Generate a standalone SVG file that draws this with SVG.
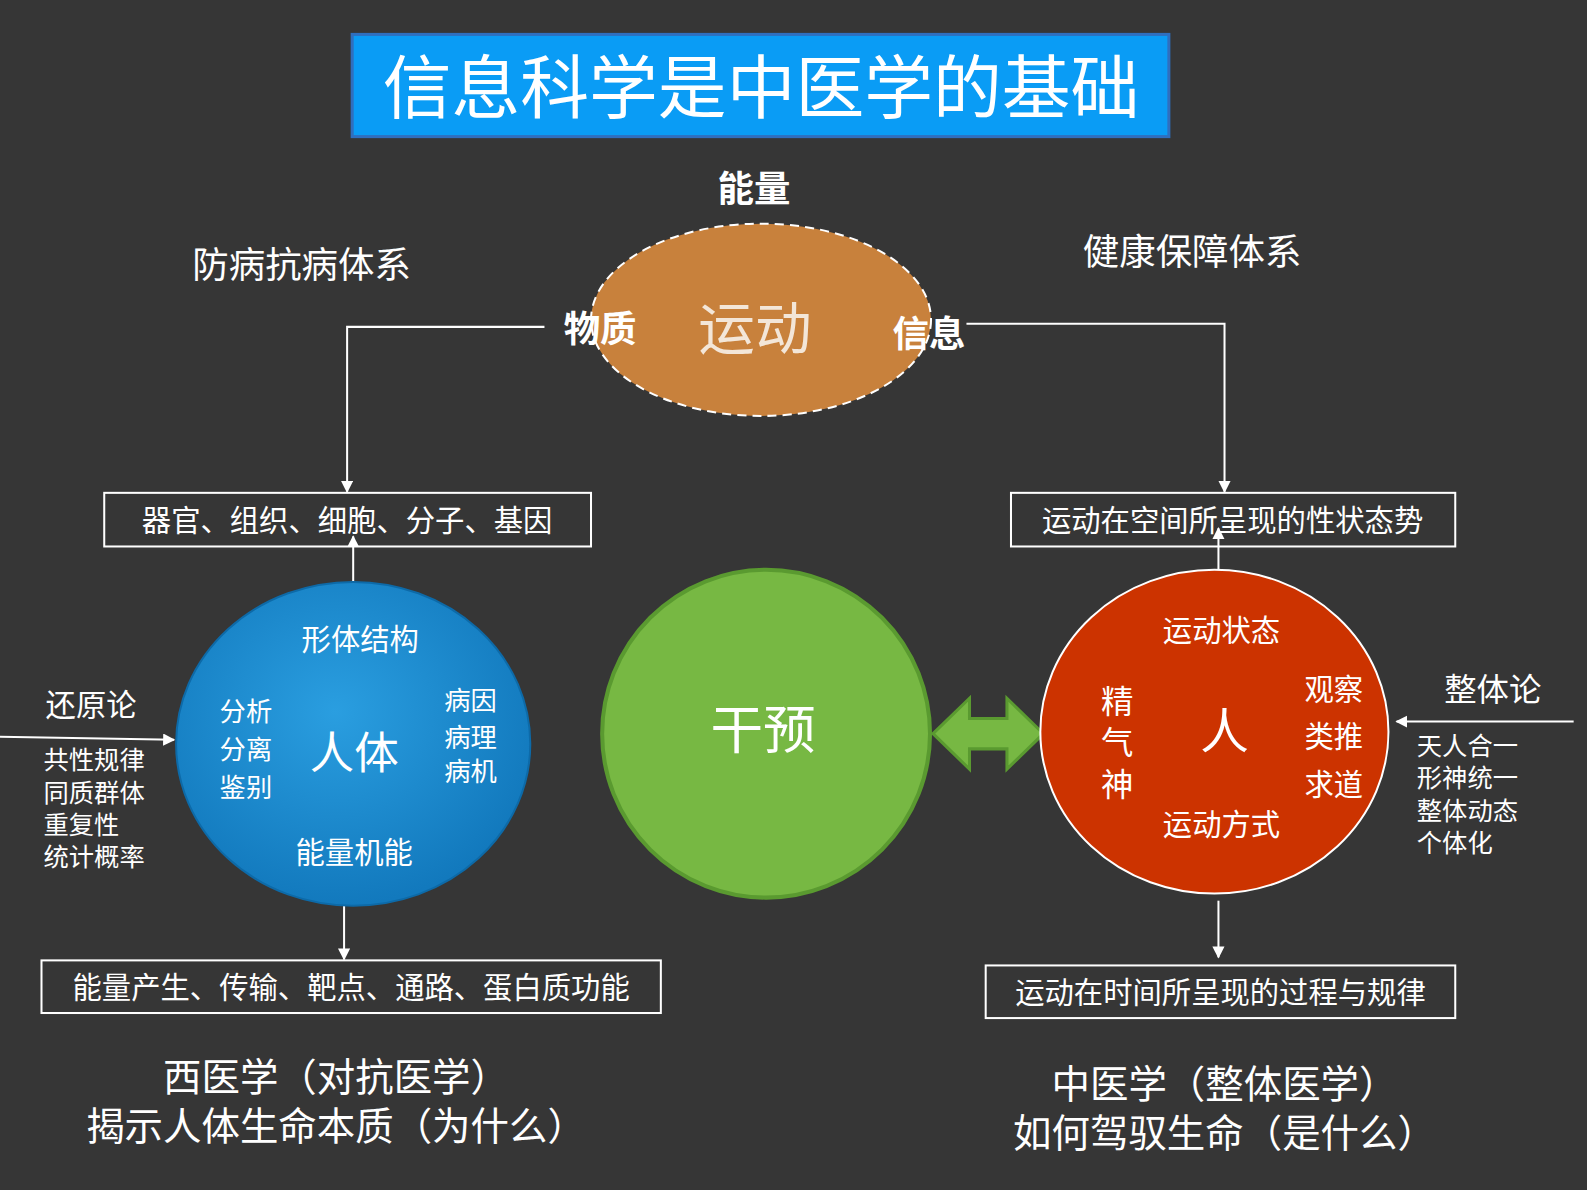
<svg xmlns="http://www.w3.org/2000/svg" width="1587" height="1190" viewBox="0 0 1587 1190">
<defs>
<style>
text{font-family:"Noto Sans CJK SC","Noto Sans",sans-serif;fill:#fff;text-anchor:middle}
.l{text-anchor:start}
.b{font-weight:bold}
.box{fill:none;stroke:#fff;stroke-width:2}
.ln{fill:none;stroke:#fff;stroke-width:2}
</style>
<marker id="ar" viewBox="0 0 10 10" refX="9" refY="5" markerWidth="6" markerHeight="6" orient="auto"><path d="M0,0L10,5L0,10z" fill="#fff"/></marker>
<radialGradient id="bg" cx="0.45" cy="0.4" r="0.6"><stop offset="0" stop-color="#2a9ee0"/><stop offset="1" stop-color="#1279bd"/></radialGradient>
</defs>
<rect width="1587" height="1190" fill="#363636"/>
<g transform="scale(1.012)">
<g id="title"><rect x="348" y="34" width="807" height="101" fill="#0a9cf5" stroke="#2f6fbf" stroke-width="3"/><text x="752" y="112" font-size="68">信息科学是中医学的基础</text></g>
<g id="connectors">
<path class="ln" d="M538,323H343V486" marker-end="url(#ar)"/>
<path class="ln" d="M955,320H1210V486" marker-end="url(#ar)"/>
<path class="ln" d="M349,597V530" marker-end="url(#ar)"/>
<path class="ln" d="M340,875V948" marker-end="url(#ar)"/>
<path class="ln" d="M1204,590V522" marker-end="url(#ar)"/>
<path class="ln" d="M1204,890V946" marker-end="url(#ar)"/>
<path class="ln" d="M0,728L172,731" marker-end="url(#ar)"/>
<path class="ln" d="M1555,713H1380" marker-end="url(#ar)"/>
<path d="M922,725L958,690V710H995V690L1031,725L995,760V740H958V760Z" fill="#77b843" stroke="#5a9a30" stroke-width="3"/>
</g>
<g id="motion"><ellipse cx="752" cy="316" rx="168" ry="95" fill="#c8813c" stroke="#fff" stroke-width="2" stroke-dasharray="9,6"/>
<text x="746" y="345" font-size="56" style="fill:#f3e6d8">运动</text>
<text x="593" y="338" font-size="36" class="b">物质</text>
<text x="918" y="343" font-size="36" class="b">信息</text>
<text x="745" y="200" font-size="36" class="b">能量</text></g>
<text x="298" y="275" font-size="36">防病抗病体系</text>
<text x="1178" y="262" font-size="36">健康保障体系</text>
<g id="boxL"><rect class="box" x="103" y="487" width="481" height="53"/><text x="343" y="525" font-size="29">器官、组织、细胞、分子、基因</text></g>
<g id="boxR"><rect class="box" x="999" y="487" width="439" height="53"/><text x="1218" y="525" font-size="29">运动在空间所呈现的性状态势</text></g>
<g id="boxBL"><rect class="box" x="41" y="949" width="612" height="52"/><text x="347" y="986" font-size="29">能量产生、传输、靶点、通路、蛋白质功能</text></g>
<g id="boxBR"><rect class="box" x="974" y="954" width="464" height="52"/><text x="1206" y="991" font-size="29">运动在时间所呈现的过程与规律</text></g>
<g id="body"><ellipse cx="349" cy="735" rx="175" ry="160" fill="url(#bg)" stroke="#0d6aa8" stroke-width="2"/>
<text x="356" y="642" font-size="29">形体结构</text>
<text x="243" y="712" font-size="26">分析</text><text x="243" y="750" font-size="26">分离</text><text x="243" y="788" font-size="26">鉴别</text>
<text x="350" y="760" font-size="44">人体</text>
<text x="465" y="702" font-size="26">病因</text><text x="465" y="738" font-size="26">病理</text><text x="465" y="772" font-size="26">病机</text>
<text x="350" y="853" font-size="29">能量机能</text></g>
<g id="left"><text x="90" y="708" font-size="30">还原论</text>
<text class="l" x="43" y="760" font-size="25">共性规律</text><text class="l" x="43" y="792" font-size="25">同质群体</text><text class="l" x="43" y="824" font-size="25">重复性</text><text class="l" x="43" y="856" font-size="25">统计概率</text></g>
<g id="intervene"><circle cx="757" cy="725" r="162" fill="#77b843" stroke="#5a9a30" stroke-width="4"/><text x="754" y="740" font-size="52">干预</text></g>
<g id="person"><ellipse cx="1200" cy="723" rx="172" ry="160" fill="#cc3300" stroke="#fff" stroke-width="2"/>
<text x="1207" y="633" font-size="29">运动状态</text>
<text x="1104" y="705" font-size="32">精</text><text x="1104" y="745" font-size="32">气</text><text x="1104" y="787" font-size="32">神</text>
<text x="1210" y="740" font-size="48">人</text>
<text x="1318" y="692" font-size="29">观察</text><text x="1318" y="738" font-size="29">类推</text><text x="1318" y="786" font-size="29">求道</text>
<text x="1207" y="825" font-size="29">运动方式</text></g>
<g id="right"><text x="1475" y="693" font-size="32">整体论</text>
<text class="l" x="1400" y="746" font-size="25">天人合一</text><text class="l" x="1400" y="778" font-size="25">形神统一</text><text class="l" x="1400" y="810" font-size="25">整体动态</text><text class="l" x="1400" y="842" font-size="25">个体化</text></g>
<g id="bottom"><text x="332" y="1078" font-size="38">西医学（对抗医学）</text><text x="332" y="1126" font-size="38">揭示人体生命本质（为什么）</text>
<text x="1210" y="1085" font-size="38">中医学（整体医学）</text><text x="1210" y="1133" font-size="38">如何驾驭生命（是什么）</text></g>
</g>
</svg>
